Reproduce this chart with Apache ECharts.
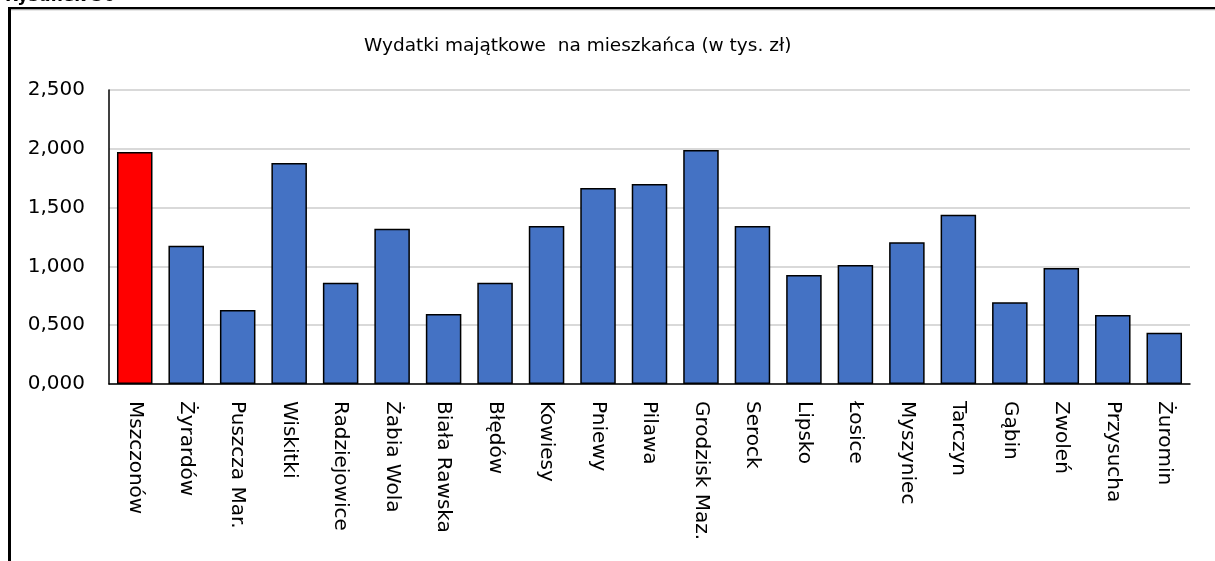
<!DOCTYPE html>
<html>
<head>
<meta charset="utf-8">
<script src="https://cdn.jsdelivr.net/npm/echarts@6/dist/echarts.min.js"></script>
<style>
  html, body { margin: 0; padding: 0; background: #fff; }
  #chart { width: 1215px; height: 561px; }
</style>
</head>
<body>
<div id="chart"></div>
<script>
// gminy
const categories = [
  "Mszczonów", "Żyrardów", "Puszcza Mar.", "Wiskitki", "Radziejowice", "Żabia Wola",
  "Biała Rawska", "Błędów", "Kowiesy", "Pniewy", "Pilawa", "Grodzisk Maz.", "Serock",
  "Lipsko", "Łosice", "Myszyniec", "Tarczyn", "Gąbin", "Zwoleń", "Przysucha", "Żuromin"
];
// wydatki majątkowe na mieszkańca (tys. zł)
const values = [
  1.973, 1.176, 0.629, 1.879, 0.861, 1.321, 0.595, 0.861, 1.344, 1.667, 1.701,
  1.990, 1.344, 0.927, 1.012, 1.205, 1.440, 0.695, 0.986, 0.587, 0.436
];
const highlighted = "Mszczonów";
const yTicks = [0, 0.5, 1, 1.5, 2, 2.5];

const FONT = "DejaVu Sans";

let chart = echarts.init(document.getElementById("chart"));

let barData = values.map((v, i) => {
  return {
    value: v,
    itemStyle: { color: categories[i] === highlighted ? "#FF0000" : "#4472C4" }
  };
});

let option = {
  animation: false,
  backgroundColor: "#fff",
  title: {
    text: "Wydatki majątkowe  na mieszkańca (w tys. zł)",
    left: 359,
    top: 32,
    textStyle: { fontFamily: FONT, fontSize: 18.5, fontWeight: "normal", color: "#000" }
  },
  grid: { left: 109, right: 25, top: 90, bottom: 177 },
  xAxis: {
    type: "category",
    data: categories,
    axisLine: { lineStyle: { color: "#000", width: 1.5 } },
    axisTick: { show: false },
    axisLabel: {
      rotate: -90,
      margin: 17,
      interval: 0,
      fontFamily: FONT,
      fontSize: 20,
      color: "#000"
    }
  },
  yAxis: {
    type: "value",
    min: yTicks[0],
    max: yTicks[yTicks.length - 1],
    interval: 0.5,
    axisLine: { show: true, lineStyle: { color: "#000", width: 1.5 } },
    axisTick: { show: false },
    splitLine: { lineStyle: { color: "#d9d9d9", width: 2 } },
    axisLabel: {
      margin: 24,
      fontFamily: FONT,
      fontSize: 20,
      color: "#000",
      formatter: v => v.toFixed(3).replace(".", ",")
    }
  },
  series: [
    {
      type: "bar",
      data: barData,
      barCategoryGap: "31%",
      itemStyle: { borderColor: "#000", borderWidth: 1.5 }
    }
  ],
  graphic: [
    {
      type: "text",
      left: 5,
      top: -12,
      style: { text: "Rysunek 36", font: "bold 17px 'DejaVu Sans'", fill: "#000" }
    },
    {
      type: "rect",
      shape: { x: 8, y: 7, width: 1207, height: 2.5 },
      style: { fill: "#000" }
    },
    {
      type: "rect",
      shape: { x: 8, y: 9.5, width: 1207, height: 1 },
      style: { fill: "#d0d0d0" }
    },
    {
      type: "rect",
      shape: { x: 8, y: 7, width: 3, height: 560 },
      style: { fill: "#000" }
    }
  ]
};

chart.setOption(option);
</script>
</body>
</html>
